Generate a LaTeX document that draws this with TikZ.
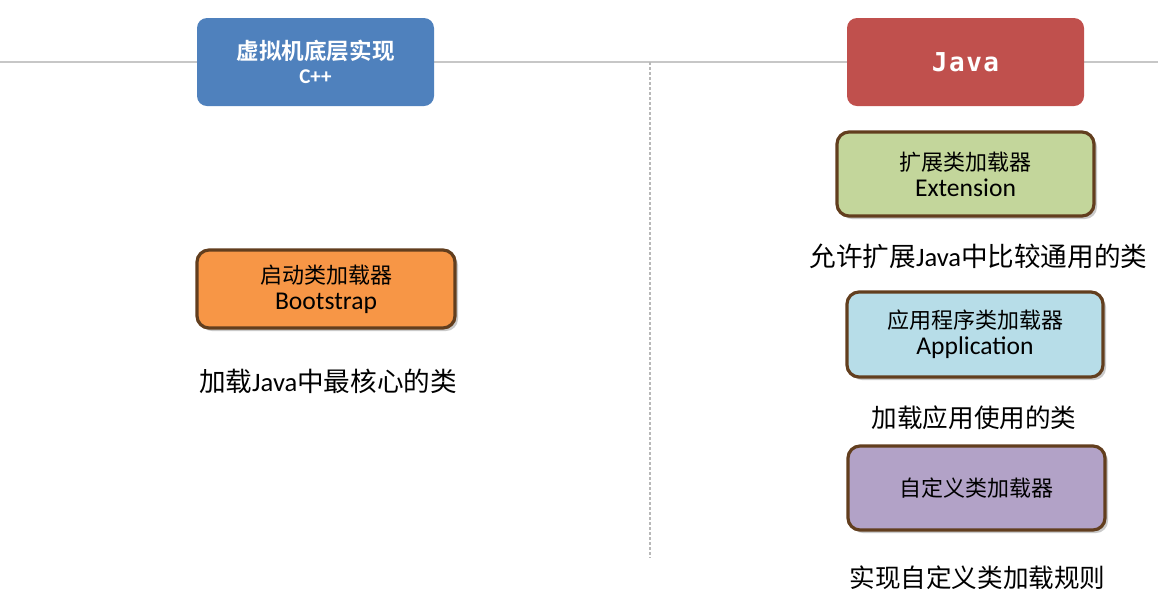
\documentclass[tikz,border=0pt]{standalone}
\usepackage{fontspec}
\setmainfont{Carlito}
\newfontfamily\cjk{Noto Sans CJK SC}[BoldFont={Noto Sans CJK SC Bold}]
\newfontfamily\javafont{DejaVu Sans Mono}[LetterSpace=6]
\usetikzlibrary{positioning,shadows}

\definecolor{jvmblue}{RGB}{79,129,189}
\definecolor{javared}{RGB}{192,80,77}
\definecolor{bootorange}{RGB}{247,150,70}
\definecolor{extgreen}{RGB}{195,214,155}
\definecolor{appblue}{RGB}{183,221,232}
\definecolor{custpurple}{RGB}{178,162,199}
\definecolor{edgebrown}{RGB}{98,62,30}

% latin line inside a loader box
\newcommand\en[1]{{\fontsize{12.8}{13}\selectfont #1}}

\begin{document}
\begin{tikzpicture}[
    x=0.5pt, y=-0.5pt,
    layer/.style={rounded corners=5pt, minimum width=118.5pt, minimum height=44pt, align=center, text=white, font=\bfseries},
    loader/.style={draw=edgebrown, line width=1.6pt, rounded corners=6pt, minimum width=128.5pt, minimum height=42pt, align=center,
      font=\fontsize{11}{13}\selectfont, drop shadow={shadow xshift=1.5pt, shadow yshift=-1.5pt, fill=black!60, opacity=0.35}},
    note/.style={inner sep=0pt, font=\fontsize{13.3}{15}\selectfont},
    rule/.style={draw=black!22, line width=0.8pt}
  ]
  \useasboundingbox (0,0) rectangle (1158,607);

  % page rule and column split
  \coordinate (ruleW) at (0,62);
  \coordinate (ruleE) at (1158,62);
  \coordinate (splitTop) at (650,62);
  \coordinate (splitEnd) at (650,558);
  \draw[rule] (ruleW) -- (ruleE);
  \draw[rule, draw=black!28, line width=0.6pt, dash pattern=on 1.5pt off 1pt] (splitTop) -- (splitEnd);

  % headers
  \node[layer, fill=jvmblue] (jvm) at (315.5,62) {{\cjk\fontsize{11.3}{14}\selectfont 虚拟机底层实现}\\{\fontsize{10.5}{11}\selectfont C++}};
  \node[layer, fill=javared] (java) at (965.5,62) {\javafont\fontsize{13}{15}\selectfont Java};

  % loaders
  \node[loader, fill=bootorange, minimum width=129pt, minimum height=39pt] (boot) at (326,289) {{\cjk 启动类加载器}\\\en{Bootstrap}};
  \node[loader, fill=extgreen] (ext) at (965.5,174) {{\cjk 扩展类加载器}\\\en{Extension}};
  \node[loader, fill=appblue, minimum width=128pt, minimum height=42.5pt] (app) at (975,334.5) {{\cjk 应用程序类加载器}\\\en{Application}};
  \node[loader, fill=custpurple] (cust) at (976.5,488) {{\cjk 自定义类加载器}};

  % notes
  \node[note, below=19.5pt of boot, xshift=1pt] (bootnote) {{\cjk 加载}Java{\cjk 中最核心的类}};
  \node[note, below=13pt of ext, xshift=6.5pt] (extnote) {{\cjk 允许扩展}Java{\cjk 中比较通用的类}};
  \node[note, below=13.5pt of app, xshift=-0.5pt, font=\fontsize{12.8}{15}\selectfont] (appnote) {{\cjk 加载应用使用的类}};
  \node[note, below=17pt of cust, xshift=0.5pt, font=\fontsize{12.8}{15}\selectfont] (custnote) {{\cjk 实现自定义类加载规则}};
\end{tikzpicture}
\end{document}
